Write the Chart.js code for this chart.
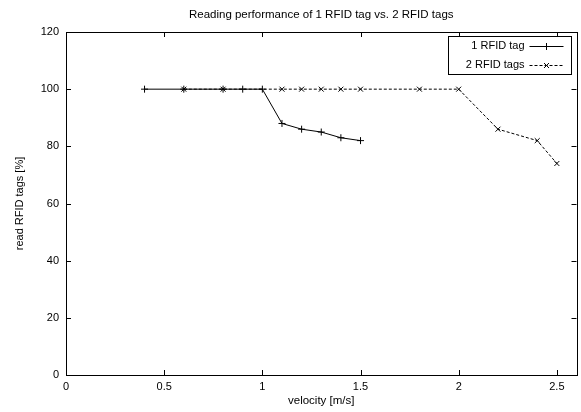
<!DOCTYPE html>
<html>
<head>
<meta charset="utf-8">
<script src="https://cdn.jsdelivr.net/npm/chart.js@4"></script>
<style>
  html, body { margin: 0; padding: 0; background: #fff; }
  #wrap { width: 581px; height: 412px; }
</style>
</head>
<body>
<div id="wrap"><canvas id="c" width="581" height="412"></canvas></div>
<script>
const chartTitle = 'Reading performance of 1 RFID tag vs. 2 RFID tags';
const xTitle = 'velocity [m/s]';
const yTitle = 'read RFID tags [%]';

const seriesNames = ['1 RFID tag', '2 RFID tags'];

const velocity1 = [0.4, 0.6, 0.8, 0.9, 1.0, 1.1, 1.2, 1.3, 1.4, 1.5];
const read1     = [100, 100, 100, 100, 100, 88, 86, 85, 83, 82];

const velocity2 = [0.6, 0.8, 1.1, 1.2, 1.3, 1.4, 1.5, 1.8, 2.0, 2.2, 2.4, 2.5];
const read2     = [100, 100, 100, 100, 100, 100, 100, 100, 100, 86, 82, 74];

const xTicks = [0, 0.5, 1, 1.5, 2, 2.5];
const yTicks = [0, 20, 40, 60, 80, 100, 120];

const FONT = '"Liberation Sans", Arial, Helvetica, sans-serif';
Chart.defaults.font.family = FONT;
Chart.defaults.font.size = 11;
Chart.defaults.color = '#000';

const toPoints = (xs, ys) => xs.map((x, i) => ({ x: x, y: ys[i] }));

// centre the title over the plot area (gnuplot style)
const titleCenterPlugin = {
  id: 'titleCenter',
  afterLayout(chart) {
    if (chart.titleBlock) {
      chart.titleBlock.left = chart.chartArea.left;
      chart.titleBlock.right = chart.chartArea.right;
    }
  }
};

// gnuplot-like frame with inward ticks on all sides
const framePlugin = {
  id: 'frame',
  afterDatasetsDraw(chart) {
    const { ctx, chartArea: a, scales } = chart;
    const tl = 5;
    ctx.save();
    ctx.strokeStyle = '#000';
    ctx.lineWidth = 1;
    ctx.beginPath();
    scales.x.ticks.forEach(t => {
      const px = Math.round(scales.x.getPixelForValue(t.value)) + 0.5;
      ctx.moveTo(px, a.bottom); ctx.lineTo(px, a.bottom - tl);
      ctx.moveTo(px, a.top); ctx.lineTo(px, a.top + tl);
    });
    scales.y.ticks.forEach(t => {
      const py = Math.round(scales.y.getPixelForValue(t.value)) + 0.5;
      ctx.moveTo(a.left, py); ctx.lineTo(a.left + tl, py);
      ctx.moveTo(a.right, py); ctx.lineTo(a.right - tl, py);
    });
    ctx.stroke();
    ctx.strokeRect(Math.round(a.left) + 0.5, Math.round(a.top) + 0.5,
                   Math.round(a.right - a.left), Math.round(a.bottom - a.top));
    ctx.restore();
  }
};

// gnuplot-like key: text right-aligned, sample line with marker on the right
const keyPlugin = {
  id: 'gkey',
  afterDraw(chart) {
    const { ctx, chartArea: a } = chart;
    const boxRight = Math.round(a.right) - 6 + 0.5;
    const boxLeft = boxRight - 123;
    const boxTop = Math.round(a.top) + 4 + 0.5;
    const boxBottom = boxTop + 38;
    ctx.save();
    ctx.strokeStyle = '#000';
    ctx.lineWidth = 1;
    ctx.strokeRect(boxLeft, boxTop, boxRight - boxLeft, boxBottom - boxTop);
    ctx.font = '11px ' + FONT;
    ctx.textAlign = 'right';
    ctx.textBaseline = 'middle';
    ctx.fillStyle = '#000';
    chart.data.datasets.forEach((ds, i) => {
      const cy = boxTop + 9 + i * 19;
      ctx.fillText(ds.label, boxRight - 47, cy);
      const x0 = boxRight - 42, x1 = boxRight - 8;
      ctx.beginPath();
      ctx.setLineDash(ds.borderDash || []);
      ctx.moveTo(x0, Math.round(cy) + 0.5);
      ctx.lineTo(x1, Math.round(cy) + 0.5);
      ctx.stroke();
      ctx.setLineDash([]);
      Chart.helpers.drawPoint(ctx, {
        pointStyle: ds.pointStyle, radius: ds.pointRadius, borderWidth: 1
      }, (x0 + x1) / 2, Math.round(cy) + 0.5);
    });
    ctx.restore();
  }
};

new Chart(document.getElementById('c'), {
  type: 'scatter',
  data: {
    datasets: [
      {
        label: seriesNames[0],
        data: toPoints(velocity1, read1),
        showLine: true,
        borderColor: '#000',
        backgroundColor: '#000',
        borderWidth: 1,
        pointStyle: 'cross',
        pointRadius: 3.5,
        pointBorderWidth: 1,
        pointHoverRadius: 3.5
      },
      {
        label: seriesNames[1],
        data: toPoints(velocity2, read2),
        showLine: true,
        borderColor: '#000',
        backgroundColor: '#000',
        borderWidth: 1,
        borderDash: [3, 2],
        pointStyle: 'crossRot',
        pointRadius: 3.5,
        pointBorderWidth: 1,
        pointHoverRadius: 3.5
      }
    ]
  },
  options: {
    responsive: false,
    animation: false,
    layout: { padding: { left: 0, right: 4, top: 0, bottom: 0 } },
    plugins: {
      legend: { display: false },
      tooltip: { enabled: false },
      title: {
        display: true,
        text: chartTitle,
        color: '#000',
        font: { size: 11.5, weight: 'normal', family: FONT },
        padding: { top: 8, bottom: 10.2 }
      }
    },
    scales: {
      x: {
        type: 'linear',
        min: 0,
        max: 2.6,
        afterBuildTicks: s => { s.ticks = xTicks.map(v => ({ value: v })); },
        afterFit: s => { s.height = 37; },
        grid: { display: false, drawTicks: false },
        border: { display: false },
        ticks: {
          padding: 5,
          color: '#000',
          maxRotation: 0,
          callback: v => String(v)
        },
        title: {
          display: true,
          text: xTitle,
          color: '#000',
          font: { size: 11.5, family: FONT },
          padding: { top: 0, bottom: 4.2 }
        }
      },
      y: {
        type: 'linear',
        min: 0,
        max: 120,
        afterBuildTicks: s => { s.ticks = yTicks.map(v => ({ value: v })); },
        afterFit: s => { s.width = 66; },
        grid: { display: false, drawTicks: false },
        border: { display: false },
        ticks: {
          padding: 7,
          color: '#000',
          callback: v => String(v)
        },
        title: {
          display: true,
          text: yTitle,
          color: '#000',
          font: { size: 11, family: FONT },
          padding: { top: 13.4, bottom: 0 }
        }
      }
    }
  },
  plugins: [titleCenterPlugin, framePlugin, keyPlugin]
});
</script>
</body>
</html>
